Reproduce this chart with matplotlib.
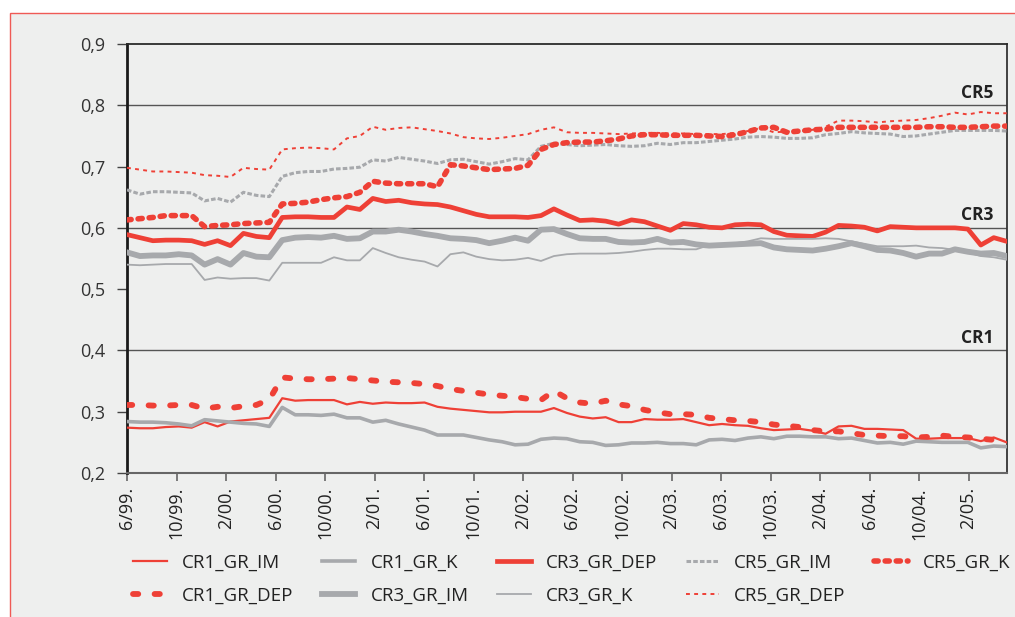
import numpy as np
import matplotlib
matplotlib.use("Agg")
import matplotlib.pyplot as plt
from matplotlib.patches import Rectangle
from matplotlib.ticker import FuncFormatter, FixedLocator
import matplotlib.transforms as mtransforms

plt.rcParams['font.family'] = ['Open Sans', 'DejaVu Sans']

# ---------------- data (monthly, 6/99 ... 2/05) ----------------
x_labels = ['6/99.', '10/99.', '2/00.', '6/00.', '10/00.', '2/01.', '6/01.', '10/01.',
            '2/02.', '6/02.', '10/02.', '2/03.', '6/03.', '10/03.', '2/04.', '6/04.',
            '10/04.', '2/05.']

CR1_GR_IM = [0.274, 0.273, 0.273, 0.275, 0.276, 0.274, 0.283, 0.276, 0.284, 0.286,
             0.288, 0.290, 0.322, 0.318, 0.319, 0.319, 0.319, 0.312, 0.316, 0.313,
             0.315, 0.314, 0.314, 0.315, 0.308, 0.305, 0.303, 0.301, 0.299, 0.299,
             0.300, 0.300, 0.300, 0.306, 0.298, 0.292, 0.289, 0.291, 0.283, 0.283,
             0.288, 0.287, 0.287, 0.288, 0.283, 0.278, 0.280, 0.278, 0.277, 0.273,
             0.270, 0.271, 0.272, 0.269, 0.264, 0.276, 0.277, 0.272, 0.272, 0.271,
             0.270, 0.256, 0.256, 0.257, 0.257, 0.257, 0.252, 0.258, 0.250]

CR1_GR_DEP = [0.311, 0.311, 0.310, 0.310, 0.311, 0.311, 0.305, 0.308, 0.306, 0.309,
              0.311, 0.320, 0.356, 0.354, 0.353, 0.353, 0.354, 0.355, 0.353, 0.351,
              0.349, 0.348, 0.347, 0.345, 0.342, 0.337, 0.334, 0.331, 0.328, 0.326,
              0.324, 0.321, 0.319, 0.334, 0.322, 0.315, 0.313, 0.318, 0.312, 0.309,
              0.303, 0.299, 0.296, 0.296, 0.295, 0.290, 0.288, 0.286, 0.285, 0.283,
              0.279, 0.277, 0.275, 0.270, 0.268, 0.268, 0.265, 0.262, 0.261, 0.260,
              0.260, 0.258, 0.259, 0.261, 0.259, 0.258, 0.256, 0.254, 0.252]

CR1_GR_K = [0.284, 0.283, 0.283, 0.282, 0.280, 0.277, 0.287, 0.285, 0.283, 0.281,
            0.280, 0.276, 0.307, 0.295, 0.295, 0.294, 0.296, 0.290, 0.290, 0.283,
            0.286, 0.280, 0.275, 0.270, 0.262, 0.262, 0.262, 0.258, 0.254, 0.251,
            0.246, 0.247, 0.255, 0.257, 0.256, 0.251, 0.250, 0.245, 0.246, 0.249,
            0.249, 0.250, 0.248, 0.248, 0.246, 0.254, 0.255, 0.253, 0.257, 0.259,
            0.256, 0.260, 0.260, 0.259, 0.259, 0.256, 0.257, 0.253, 0.249, 0.250,
            0.247, 0.252, 0.251, 0.250, 0.250, 0.250, 0.241, 0.244, 0.243]

CR3_GR_IM = [0.560, 0.554, 0.555, 0.555, 0.557, 0.555, 0.540, 0.549, 0.540, 0.559,
             0.553, 0.552, 0.580, 0.584, 0.585, 0.584, 0.587, 0.582, 0.583, 0.594,
             0.594, 0.597, 0.594, 0.590, 0.587, 0.583, 0.582, 0.580, 0.575, 0.579,
             0.584, 0.579, 0.597, 0.598, 0.590, 0.583, 0.582, 0.582, 0.577, 0.576,
             0.577, 0.582, 0.576, 0.577, 0.573, 0.571, 0.572, 0.573, 0.574, 0.575,
             0.568, 0.565, 0.564, 0.563, 0.566, 0.570, 0.575, 0.570, 0.564, 0.563,
             0.559, 0.553, 0.558, 0.558, 0.565, 0.561, 0.558, 0.559, 0.554]

CR3_GR_DEP = [0.589, 0.584, 0.579, 0.580, 0.580, 0.579, 0.573, 0.579, 0.571, 0.591,
              0.586, 0.584, 0.617, 0.618, 0.618, 0.617, 0.617, 0.634, 0.630, 0.648,
              0.643, 0.645, 0.641, 0.639, 0.638, 0.634, 0.628, 0.622, 0.618, 0.618,
              0.618, 0.617, 0.620, 0.631, 0.621, 0.612, 0.613, 0.611, 0.606, 0.613,
              0.610, 0.603, 0.596, 0.607, 0.605, 0.601, 0.600, 0.605, 0.606, 0.605,
              0.594, 0.588, 0.587, 0.586, 0.593, 0.604, 0.603, 0.601, 0.595, 0.602,
              0.601, 0.600, 0.600, 0.600, 0.600, 0.598, 0.572, 0.584, 0.578]

CR3_GR_K = [0.540, 0.539, 0.540, 0.541, 0.541, 0.541, 0.515, 0.519, 0.517, 0.518,
            0.518, 0.514, 0.543, 0.543, 0.543, 0.543, 0.552, 0.547, 0.547, 0.567,
            0.559, 0.552, 0.548, 0.545, 0.537, 0.557, 0.560, 0.553, 0.549, 0.547,
            0.548, 0.551, 0.546, 0.554, 0.557, 0.558, 0.558, 0.558, 0.559, 0.561,
            0.564, 0.566, 0.566, 0.565, 0.565, 0.572, 0.573, 0.575, 0.578, 0.583,
            0.582, 0.582, 0.582, 0.582, 0.583, 0.582, 0.578, 0.574, 0.570, 0.570,
            0.570, 0.571, 0.568, 0.567, 0.564, 0.560, 0.554, 0.552, 0.548]

CR5_GR_IM = [0.662, 0.655, 0.659, 0.659, 0.658, 0.657, 0.644, 0.648, 0.642, 0.658,
             0.653, 0.651, 0.684, 0.690, 0.692, 0.692, 0.696, 0.697, 0.699, 0.711,
             0.709, 0.715, 0.712, 0.709, 0.705, 0.711, 0.712, 0.708, 0.704, 0.708,
             0.713, 0.711, 0.733, 0.738, 0.736, 0.734, 0.735, 0.736, 0.734, 0.733,
             0.734, 0.738, 0.736, 0.739, 0.739, 0.741, 0.743, 0.745, 0.748, 0.749,
             0.748, 0.746, 0.746, 0.747, 0.752, 0.754, 0.757, 0.755, 0.754, 0.753,
             0.749, 0.750, 0.753, 0.756, 0.759, 0.759, 0.759, 0.759, 0.758]

CR5_GR_DEP = [0.698, 0.695, 0.692, 0.692, 0.691, 0.690, 0.686, 0.685, 0.683, 0.698,
              0.696, 0.695, 0.728, 0.730, 0.731, 0.730, 0.728, 0.746, 0.750, 0.765,
              0.760, 0.763, 0.764, 0.761, 0.758, 0.754, 0.748, 0.746, 0.745, 0.747,
              0.750, 0.753, 0.760, 0.764, 0.756, 0.755, 0.755, 0.754, 0.753, 0.754,
              0.755, 0.755, 0.754, 0.754, 0.753, 0.753, 0.753, 0.755, 0.758, 0.763,
              0.756, 0.757, 0.758, 0.760, 0.765, 0.775, 0.775, 0.774, 0.772, 0.774,
              0.775, 0.776, 0.779, 0.783, 0.788, 0.785, 0.789, 0.787, 0.787]

CR5_GR_K = [0.613, 0.615, 0.617, 0.620, 0.620, 0.620, 0.602, 0.604, 0.605, 0.607,
            0.608, 0.609, 0.639, 0.640, 0.642, 0.646, 0.649, 0.651, 0.658, 0.676,
            0.673, 0.672, 0.672, 0.672, 0.667, 0.703, 0.701, 0.698, 0.695, 0.696,
            0.697, 0.702, 0.728, 0.736, 0.739, 0.740, 0.740, 0.742, 0.745, 0.750,
            0.752, 0.752, 0.751, 0.751, 0.751, 0.750, 0.749, 0.752, 0.757, 0.763,
            0.764, 0.756, 0.758, 0.760, 0.761, 0.764, 0.764, 0.764, 0.764, 0.764,
            0.764, 0.764, 0.765, 0.765, 0.764, 0.764, 0.765, 0.766, 0.766]

group_labels = ['CR1', 'CR3', 'CR5']
group_levels = [0.4, 0.6, 0.8]

# ---------------- styling ----------------
RED = '#EE4036'
GRAY = '#A7A9AC'
PANEL = '#EEEFEE'

fig = plt.figure(figsize=(10.15, 6.17), dpi=100)
fig.patch.set_facecolor('white')
panel = Rectangle((10 / 1015, -0.1), 1.2, 1.0784, transform=fig.transFigure,
                  facecolor=PANEL, edgecolor='#EF5A55', lw=1.0, zorder=-10)
fig.patches.append(panel)

ax = fig.add_axes([127 / 1015, 144 / 617, 879.7 / 1015, 429 / 617])
ax.set_zorder(1)
ax.set_facecolor(PANEL)

n = len(CR1_GR_IM)
x = np.arange(n)

series = [
    ('CR1_GR_IM', CR1_GR_IM, dict(color=RED, lw=1.6)),
    ('CR1_GR_DEP', CR1_GR_DEP, dict(color=RED, lw=4.2, linestyle=(0, (0.9, 2.8)),
                                    dash_capstyle='round')),
    ('CR1_GR_K', CR1_GR_K, dict(color=GRAY, lw=2.6)),
    ('CR3_GR_IM', CR3_GR_IM, dict(color=GRAY, lw=4.2)),
    ('CR3_GR_DEP', CR3_GR_DEP, dict(color=RED, lw=3.4)),
    ('CR3_GR_K', CR3_GR_K, dict(color=GRAY, lw=1.3)),
    ('CR5_GR_IM', CR5_GR_IM, dict(color=GRAY, lw=2.2, linestyle=(0, (1.5, 0.7)))),
    ('CR5_GR_DEP', CR5_GR_DEP, dict(color=RED, lw=1.4, linestyle=(0, (2.0, 2.2)))),
    ('CR5_GR_K', CR5_GR_K, dict(color=RED, lw=4.0, linestyle=(0, (0.75, 1.25)),
                                dash_capstyle='round')),
]

for name, vals, kw in series:
    ax.plot(x, vals, label=name, zorder=3, solid_joinstyle='round', **kw)

for lvl in group_levels:
    ax.axhline(lvl, color='#555555', lw=1.0, zorder=2)

blend = mtransforms.blended_transform_factory(ax.transAxes, ax.transData)
for lab, lvl in zip(group_labels, group_levels):
    ax.text(0.9845, lvl + 0.0125, lab, transform=blend, ha='right', va='baseline',
            fontsize=12.5, fontweight='bold', color='#222222', zorder=4)

ax.set_xlim(0, n - 1)
ax.set_ylim(0.2, 0.9)

tick_step = (n - 1) * 49.5 / 879.7
ax.xaxis.set_major_locator(FixedLocator(np.arange(len(x_labels)) * tick_step))
ax.set_xticklabels(x_labels, rotation=90, fontsize=13, color='#222222')
ax.set_yticks(np.round(np.arange(0.2, 0.91, 0.1), 1))
ax.yaxis.set_major_formatter(FuncFormatter(lambda v, p: f"{v:.1f}".replace('.', ',')))

ax.tick_params(axis='y', direction='out', length=7, width=1.0, color='#444444',
               labelsize=13, labelcolor='#333333', pad=8.5)
ax.tick_params(axis='x', direction='out', length=5.5, width=1.2, color='#666666',
               pad=4.5)

ax.spines['left'].set(lw=2.0, color='#1a1a1a')
ax.spines['top'].set(lw=1.3, color='#2b2b2b')
ax.spines['right'].set(lw=1.3, color='#333333')
ax.spines['bottom'].set(lw=1.5, color='#666666')

leg = fig.legend(ncol=5, loc='upper left', bbox_to_anchor=(133 / 1015, 1 - 554 / 617),
                 bbox_transform=fig.transFigure, frameon=False, fontsize=13.5,
                 handlelength=1.8, handletextpad=0.8, columnspacing=1.52,
                 labelspacing=0.8, borderpad=0, borderaxespad=0)
for t in leg.get_texts():
    t.set_color('#222222')

fig.savefig('out.png', dpi=100, facecolor=fig.get_facecolor())
